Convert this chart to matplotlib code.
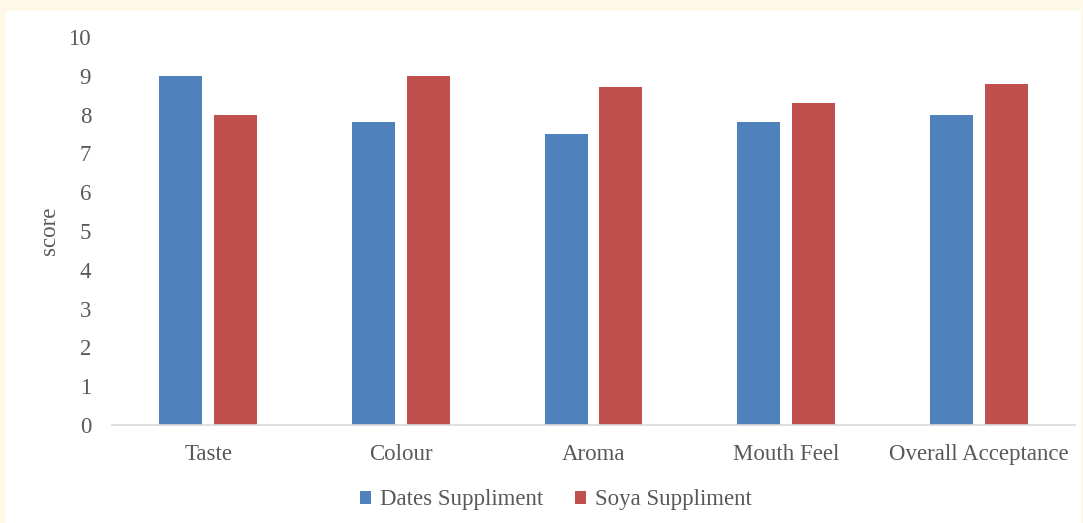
import numpy as np
import matplotlib.pyplot as plt
from matplotlib.patches import Rectangle

categories = ["Taste", "Colour", "Aroma", "Mouth Feel", "Overall Acceptance"]
dates = [9.0, 7.8, 7.5, 7.8, 8.0]
soya = [8.0, 9.0, 8.7, 8.3, 8.8]

plt.rcParams['font.family'] = ['Liberation Serif', 'DejaVu Serif']
grey = '#595959'

fig = plt.figure(figsize=(10.83, 5.23), dpi=100)
fig.patch.set_facecolor('#FEF9E7')
# white chart area inside the yellow frame
fig.add_artist(Rectangle((6 / 1083, 0), 1075 / 1083, 512 / 523,
                         transform=fig.transFigure, facecolor='white',
                         edgecolor='none', zorder=-10))

ax = fig.add_axes([112 / 1083, 98 / 523, 963 / 1083, 388 / 523])
ax.set_facecolor('white')

x = np.arange(len(categories))
w = 0.223
gap = 0.062
ax.bar(x - (w + gap) / 2, dates, w, color='#4F81BD', label='Dates Suppliment')
ax.bar(x + (w + gap) / 2, soya, w, color='#C0504D', label='Soya Suppliment')

ax.set_xlim(-0.5, len(categories) - 0.5)
ax.set_ylim(0, 10)
ax.set_yticks(range(0, 11))
ax.set_xticks(x)
ax.set_xticklabels(categories)
ax.tick_params(axis='both', length=0, labelsize=16.5, labelcolor=grey)
ax.tick_params(axis='y', pad=15)
ax.tick_params(axis='x', pad=14)

for s in ['top', 'right', 'left']:
    ax.spines[s].set_visible(False)
ax.spines['bottom'].set_color('#D9D9D9')
ax.spines['bottom'].set_linewidth(1.2)

ax.set_ylabel('score', fontsize=16.5, color=grey, labelpad=6)

leg = fig.legend(loc='center', bbox_to_anchor=(556 / 1083, 23 / 523), ncol=2,
                 frameon=False, fontsize=16.5, handlelength=0.48, handleheight=0.48,
                 handletextpad=0.4, columnspacing=1.4)
for t in leg.get_texts():
    t.set_color(grey)

fig.savefig('out.png', dpi=100, facecolor=fig.get_facecolor())
